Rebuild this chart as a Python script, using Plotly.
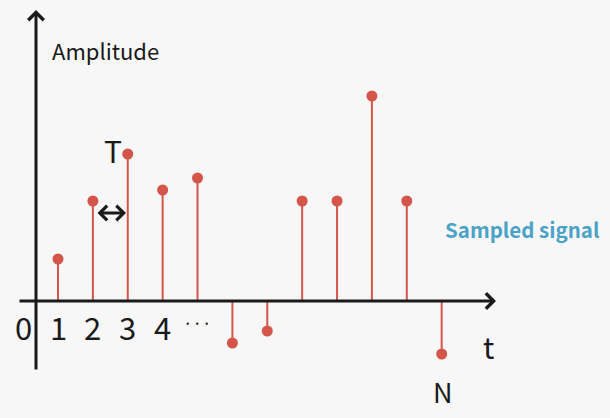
import plotly.graph_objects as go

# ---- data ----
sample_index = [1, 2, 3, 4, 5, 6, 7, 8, 9, 10, 11, 12]
amplitude = [0.42, 1.00, 1.47, 1.11, 1.23, -0.42, -0.30, 1.00, 1.00, 2.05, 1.00, -0.53]
tick_positions = [0, 1, 2, 3, 4, 5]
tick_labels = ["0", "1", "2", "3", "4", "···"]

W, H = 610, 418
BG = "#F7F7F7"
STEM = "#D4564B"
INK = "#1a1a1a"
FONT = "Noto Sans CJK KR, Noto Sans, sans-serif"


def px(x):
    return x / W


def py(y):
    return 1 - y / H


def arrow(x0, y0, x1, y1, width, size=1.0, both=False):
    # tail (x0,y0) -> head (x1,y1), pixel positions
    return dict(xref="paper", yref="paper", axref="pixel", ayref="pixel",
                x=px(x1), y=py(y1), ax=x0 - x1, ay=y0 - y1, text="",
                showarrow=True, arrowhead=4, arrowwidth=width, arrowsize=size,
                arrowside="end+start" if both else "end",
                arrowcolor=INK, standoff=0, startstandoff=0)


# stems built from the data
sx, sy = [], []
for t, a in zip(sample_index, amplitude):
    sx += [t, t, None]
    sy += [0, a, None]

fig = go.Figure()
fig.add_trace(go.Scatter(x=sx, y=sy, mode="lines",
                         line=dict(color=STEM, width=2), hoverinfo="skip"))
fig.add_trace(go.Scatter(x=sample_index, y=amplitude, mode="markers",
                         marker=dict(color=STEM, size=11), hoverinfo="skip"))

ann = [
    arrow(18, 301, 496, 301, 3),
    arrow(36, 371, 36, 10, 3),
    arrow(96, 213, 126, 213, 3, size=0.95, both=True),
]

# tick labels
for pos, lab in zip(tick_positions, tick_labels):
    dots = lab == "···"
    ann.append(dict(xref="x", yref="paper", x=pos, y=py(322 if dots else 326),
                    text=lab, showarrow=False, xanchor="center", yanchor="middle",
                    font=dict(family=FONT, size=17 if dots else 31, color=INK)))

texts = [
    ("Amplitude", 50, 50, "left", 22, INK, False),
    ("T", 113, 150, "center", 30, INK, False),
    ("t", 488, 346, "center", 30, INK, False),
    ("N", 443, 391, "center", 27, INK, False),
    ("Sampled signal", 522, 229, "center", 20.5, "#4AA2C6", True),
]
for txt, x, y, xa, size, col, bold in texts:
    ann.append(dict(xref="paper", yref="paper", x=px(x), y=py(y),
                    text=f"<b>{txt}</b>" if bold else txt, showarrow=False,
                    xanchor=xa, yanchor="middle",
                    font=dict(family=FONT, size=size, color=col)))

fig.update_layout(
    width=W, height=H,
    margin=dict(l=0, r=0, t=0, b=0),
    paper_bgcolor=BG, plot_bgcolor=BG,
    showlegend=False,
    xaxis=dict(range=[-0.663, 16.826], visible=False, fixedrange=True),
    yaxis=dict(range=[-1.17, 3.01], visible=False, fixedrange=True),
    annotations=ann,
)

fig.write_html(
    "out.html",
    config={"displayModeBar": False},
    post_script="document.body.style.margin='0';"
                "document.body.style.background='" + BG + "';",
)
